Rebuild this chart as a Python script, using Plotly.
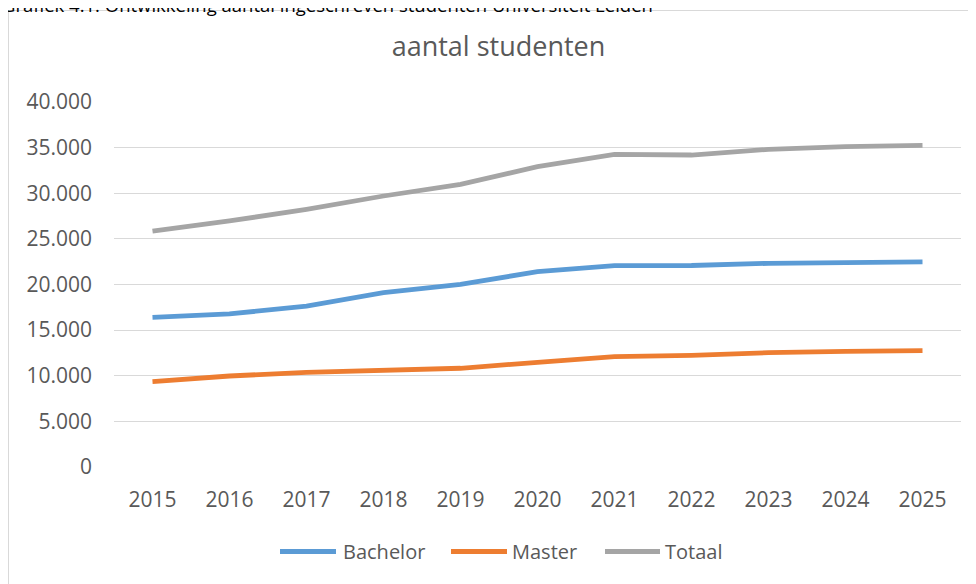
import plotly.graph_objects as go

years = ["2015", "2016", "2017", "2018", "2019", "2020", "2021", "2022", "2023", "2024", "2025"]
bachelor = [16400, 16770, 17640, 19100, 20020, 21400, 22060, 22080, 22320, 22430, 22470]
master = [9350, 9970, 10370, 10560, 10820, 11470, 12090, 12240, 12530, 12680, 12750]
totaal = [25850, 26960, 28240, 29700, 30980, 32910, 34260, 34190, 34810, 35100, 35250]
y_ticks = [0, 5000, 10000, 15000, 20000, 25000, 30000, 35000, 40000]
series_names = ["Bachelor", "Master", "Totaal"]

FONT = "Open Sans"
TXT = "#595959"
COLORS = ["#5B9BD5", "#ED7D31", "#A5A5A5"]

# page body has an 8px margin, so the figure is laid out 8px inside the window
OFF = 8
W, H = 976 - OFF, 584 - OFF
ml, mr, mt, mb = 106, 15, 94, 117
pw, ph = W - ml - mr, H - mt - mb

def px(x):  # x in window pixels -> paper
    return (x - OFF - ml) / pw

def py(y):  # y in window pixels -> paper
    return (H - mb - (y - OFF)) / ph

fig = go.Figure()
for name, vals, col in zip(series_names, [bachelor, master, totaal], COLORS):
    fig.add_trace(go.Scatter(x=years, y=vals, name=name, mode="lines",
                             line=dict(color=col, width=4.8), showlegend=False))

legend_x = [(280, 336, 341), (451, 507, 510), (605, 660, 663)]
shapes = [dict(type="rect", xref="paper", yref="paper",
               x0=px(8.5), x1=px(990), y0=py(600), y1=py(10.5),
               line=dict(color="#D9D9D9", width=1), layer="below")]
annotations = [dict(text="Grafiek 4.1: Ontwikkeling aantal ingeschreven studenten Universiteit Leiden",
                    xref="paper", yref="paper", x=px(0), y=py(18.5), xanchor="left", yanchor="bottom",
                    showarrow=False, font=dict(size=18.5, color="black", family=FONT))]
ly = 551.5
for (x0, x1, xt), name, col in zip(legend_x, series_names, COLORS):
    shapes.append(dict(type="line", xref="paper", yref="paper",
                       x0=px(x0), x1=px(x1), y0=py(ly), y1=py(ly),
                       line=dict(color=col, width=5)))
    annotations.append(dict(text=name, xref="paper", yref="paper", x=px(xt), y=py(ly),
                            xanchor="left", yanchor="middle", showarrow=False,
                            font=dict(size=20, color=TXT, family=FONT)))

fig.update_layout(
    width=W, height=H,
    margin=dict(l=ml, r=mr, t=mt, b=mb, autoexpand=False),
    paper_bgcolor="white", plot_bgcolor="white",
    separators=",.",
    showlegend=False,
    font=dict(family=FONT, color=TXT),
    title=dict(text="aantal studenten", x=(498.5 - OFF) / W, xanchor="center",
               y=1 - (47 - OFF) / H, yanchor="middle",
               font=dict(size=27, color=TXT, family=FONT)),
    xaxis=dict(type="category", range=[-0.5, 10.5], showgrid=False, showline=False,
               ticks="", tickfont=dict(size=21, color=TXT), zeroline=False,
               ticklabelstandoff=18, automargin=False),
    yaxis=dict(range=[0, 40000], tickvals=y_ticks, tickformat=",d", showgrid=True,
               gridcolor="#D9D9D9", gridwidth=1, zeroline=False, showline=False,
               ticks="", tickfont=dict(size=21, color=TXT), ticklabelstandoff=21,
               automargin=False),
    shapes=shapes,
    annotations=annotations,
)

fig.write_html("out.html")
